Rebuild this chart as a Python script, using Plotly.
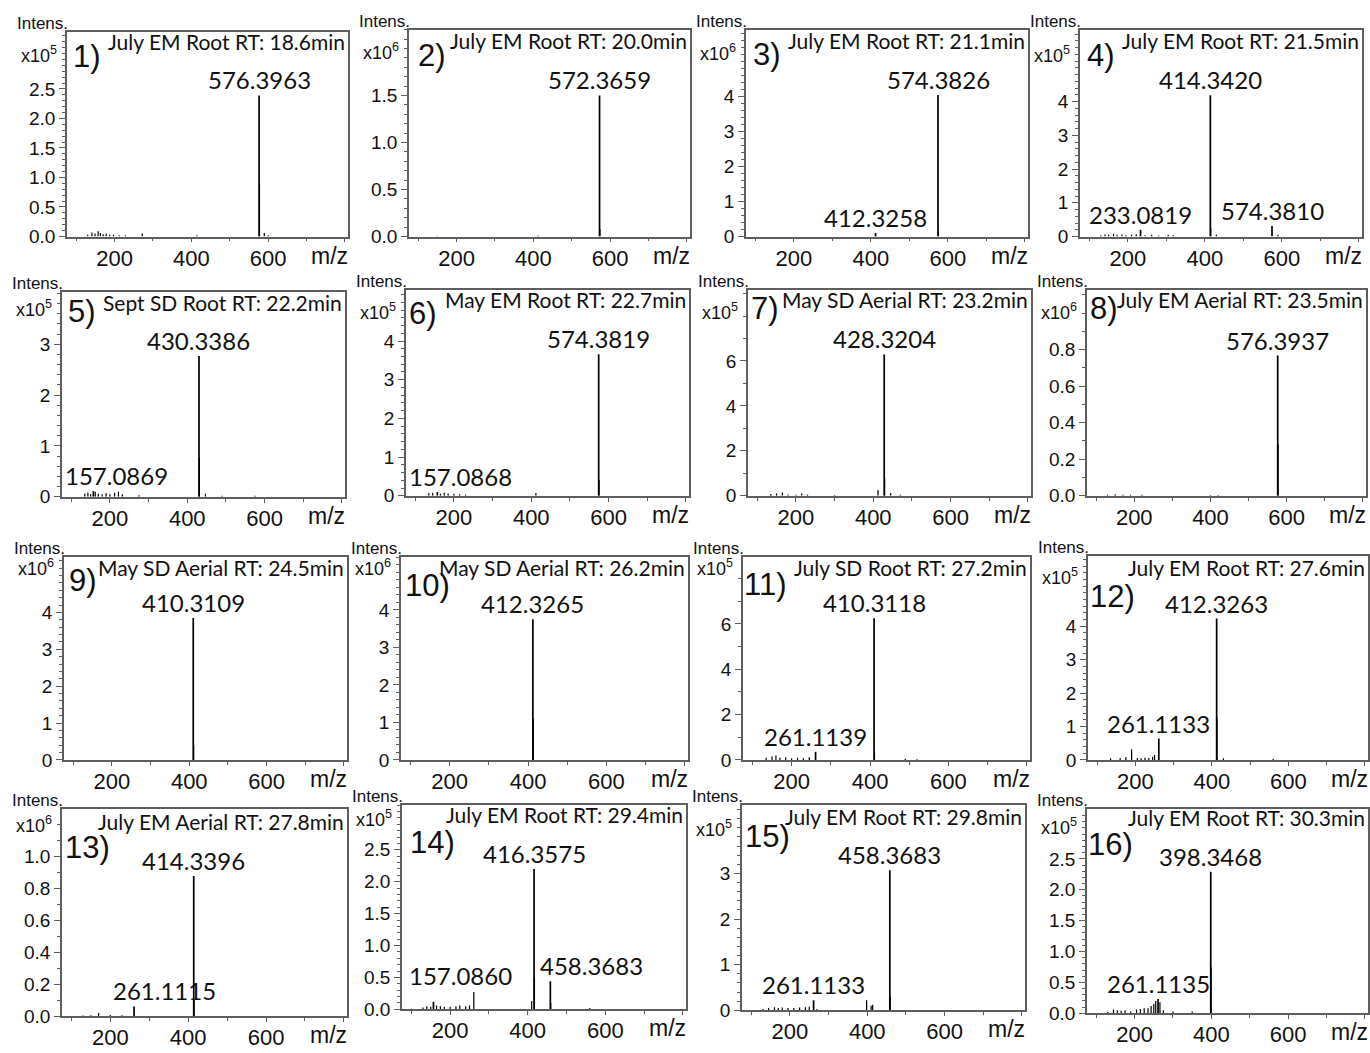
import plotly.graph_objects as go

# ---------------------------------------------------------------------------
# Mass spectra data (intensities are in units of 10^exponent)
# ---------------------------------------------------------------------------
PANEL_NUMBERS = ["1)", "2)", "3)", "4)", "5)", "6)", "7)", "8)",
                 "9)", "10)", "11)", "12)", "13)", "14)", "15)", "16)"]

PANEL_TITLES = [
    "July EM Root RT: 18.6min",
    "July EM Root RT: 20.0min",
    "July EM Root RT: 21.1min",
    "July EM Root RT: 21.5min",
    "Sept SD Root RT: 22.2min",
    "May EM Root RT: 22.7min",
    "May SD Aerial RT: 23.2min",
    "July EM Aerial RT: 23.5min",
    "May SD Aerial RT: 24.5min",
    "May SD Aerial RT: 26.2min",
    "July SD Root RT: 27.2min",
    "July EM Root RT: 27.6min",
    "July EM Aerial RT: 27.8min",
    "July EM Root RT: 29.4min",
    "July EM Root RT: 29.8min",
    "July EM Root RT: 30.3min",
]

INTENSITY_EXPONENT = [5, 6, 6, 5, 5, 5, 5, 6, 6, 6, 5, 5, 6, 5, 5, 5]

Y_AXIS_TOP = [3.47, 2.2, 5.92, 6.13, 4.03, 5.32, 9.16, 1.127,
              5.5, 5.41, 8.95, 6.1, 1.297, 3.21, 4.49, 3.3]
Y_TICK_STEP = [0.5, 0.5, 1, 1, 1, 1, 2, 0.2, 1, 1, 2, 1, 0.2, 0.5, 1, 0.5]
Y_TICK_LAST = [2.5, 1.5, 4, 4, 3, 4, 6, 0.8, 4, 4, 6, 4, 1.0, 2.5, 3, 2.5]
Y_MINOR_STEP = [0.1, 0.1, 0.2, 0.2, 0.2, 0.2, 1, 0.1,
                0.2, 0.2, 1, 0.2, 0.1, 0.1, 0.2, 0.1]

MZ_RANGE = [76, 808]
MZ_TICKS = [200, 400, 600, 800]
MZ_TICK_TEXT = ["200", "400", "600", ""]
MZ_MINOR_TICKS = [100, 300, 500, 700]

# Annotated peaks: m/z and intensity
LABELED_MZ = [
    [576.3963],
    [572.3659],
    [574.3826, 412.3258],
    [414.3420, 233.0819, 574.3810],
    [430.3386, 157.0869],
    [574.3819, 157.0868],
    [428.3204],
    [576.3937],
    [410.3109],
    [412.3265],
    [410.3118, 261.1139],
    [412.3263, 261.1133],
    [414.3396, 261.1115],
    [416.3575, 458.3683, 157.0860],
    [458.3683, 261.1133],
    [398.3468, 261.1135],
]
LABELED_INTENSITY = [
    [2.39],
    [1.50],
    [4.05, 0.10],
    [4.19, 0.20, 0.31],
    [2.77, 0.11],
    [3.66, 0.10],
    [6.29],
    [0.768],
    [3.85],
    [3.75],
    [6.25, 0.36],
    [4.23, 0.64],
    [0.88, 0.062],
    [2.20, 0.44, 0.12],
    [3.07, 0.22],
    [2.29, 0.23],
]

# Unannotated peaks (isotopes, fragments and background)
OTHER_MZ = [
    [130, 141, 149, 157, 163, 170, 178, 187, 197, 212, 228, 272, 415, 577.40, 590, 600],
    [150, 412, 573.37],
    [413.33, 575.39],
    [130, 141, 150, 163, 172, 185, 195, 210, 222, 245, 262, 280, 305, 318, 415.35, 430, 590],
    [135, 143, 150, 162, 170, 180, 190, 200, 212, 222, 232, 275, 431.34, 447, 490, 575],
    [135, 145, 165, 175, 185, 200, 215, 230, 412, 575.39],
    [135, 150, 165, 180, 200, 215, 230, 300, 412.3, 429.33, 445, 470],
    [130, 150, 170, 190, 220, 400, 420, 577.40],
    [411.31],
    [413.33],
    [135, 150, 160, 170, 185, 200, 215, 230, 245, 411.32, 490, 520],
    [135, 160, 175, 190, 205, 215, 225, 235, 245, 250, 413.33, 430, 560],
    [130, 150, 170, 200, 230, 415.35],
    [100, 130, 140, 150, 165, 175, 185, 200, 215, 225, 240, 250, 261.11, 410.3, 417.36, 459.37, 560],
    [130, 145, 160, 170, 180, 195, 210, 225, 240, 250, 270, 398.35, 410, 414, 459.37],
    [130, 145, 155, 165, 175, 190, 205, 215, 225, 235, 243, 250, 255, 266, 275, 300, 350, 399.35],
]
OTHER_INTENSITY = [
    [0.03, 0.07, 0.05, 0.09, 0.06, 0.04, 0.05, 0.03, 0.03, 0.02, 0.02, 0.05, 0.02, 0.90, 0.06, 0.02],
    [0.005, 0.01, 0.08],
    [0.03, 0.15],
    [0.04, 0.06, 0.05, 0.08, 0.05, 0.06, 0.04, 0.05, 0.07, 0.04, 0.05, 0.03, 0.05, 0.04, 0.26, 0.05, 0.05],
    [0.06, 0.08, 0.05, 0.10, 0.06, 0.05, 0.07, 0.05, 0.08, 0.10, 0.05, 0.03, 0.77, 0.06, 0.02, 0.02],
    [0.07, 0.08, 0.05, 0.08, 0.06, 0.05, 0.04, 0.03, 0.07, 0.40],
    [0.08, 0.10, 0.15, 0.06, 0.05, 0.10, 0.06, 0.03, 0.26, 0.80, 0.12, 0.05],
    [0.006, 0.008, 0.006, 0.005, 0.005, 0.004, 0.004, 0.28],
    [0.40],
    [1.10],
    [0.10, 0.15, 0.20, 0.10, 0.12, 0.08, 0.10, 0.08, 0.12, 0.30, 0.05, 0.03],
    [0.05, 0.06, 0.08, 0.32, 0.06, 0.05, 0.07, 0.06, 0.10, 0.15, 1.27, 0.05, 0.04],
    [0.005, 0.006, 0.02, 0.008, 0.006, 0.10],
    [0.01, 0.03, 0.05, 0.04, 0.06, 0.05, 0.04, 0.04, 0.05, 0.06, 0.05, 0.06, 0.27, 0.13, 0.50, 0.10, 0.02],
    [0.03, 0.05, 0.07, 0.05, 0.06, 0.05, 0.05, 0.06, 0.07, 0.08, 0.03, 0.22, 0.10, 0.12, 0.30],
    [0.02, 0.06, 0.05, 0.04, 0.05, 0.03, 0.06, 0.07, 0.08, 0.08, 0.12, 0.15, 0.20, 0.18, 0.05, 0.03, 0.03, 0.74],
]

# ---------------------------------------------------------------------------
# Page geometry and styling
# ---------------------------------------------------------------------------
W, H = 1370, 1053

# frame of each panel in page pixels: left, top, right, bottom
PANEL_BOX = [
    (67, 32, 348, 239), (409, 30, 690, 239), (746, 30, 1028, 239), (1080, 30, 1362, 239),
    (62, 295, 345, 502), (406, 293, 689, 501), (748, 293, 1031, 501), (1087, 293, 1366, 501),
    (64, 563, 347, 768), (401, 563, 688, 768), (743, 563, 1030, 768), (1088, 562, 1368, 768),
    (62, 818, 347, 1027), (402, 813, 686, 1020), (742, 814, 1025, 1021), (1087, 818, 1368, 1024),
]
NUMBER_OFFSET = [(6, 25), (9, 26), (7, 25), (7, 26), (6, 20), (3, 24), (3, 19), (3, 19),
                 (5, 23), (4, 28), (1, 27), (2, 40), (3, 38), (8, 38), (3, 31), (1, 35)]
EXPONENT_DROP = [23, 22, 23, 25, 17, 22, 22, 22, 10, 10, 10, 20, 15, 14, 23, 17]
TITLE_DROP = [10, 11, 11, 11, 11, 10, 10, 10, 10, 10, 10, 11, 12, 10, 11, 8]
# hand placement for labels that would collide with neighbouring peaks
LABEL_NUDGE = {(12, 1): (30, 0), (13, 1): (41, 0), (13, 2): (4, 11)}

INK = "#111111"
FRAME = "#5e5e5e"
SANS = "Liberation Sans, Arial, sans-serif"
PEAK_FONT = "Lato, Carlito, Calibri, sans-serif"
PEAK_SIZE = 24

fig = go.Figure()
annotations = []
axes = {}

for i in range(16):
    k = i + 1
    suffix = "" if k == 1 else str(k)
    xref, yref = f"x{suffix}", f"y{suffix}"
    left, top, right, bottom = PANEL_BOX[i]

    # background / isotope sticks
    xs, ys = [], []
    for mz, h in zip(OTHER_MZ[i], OTHER_INTENSITY[i]):
        xs += [mz, mz, None]
        ys += [0, h, None]
    fig.add_trace(go.Scatter(x=xs, y=ys, mode="lines", xaxis=xref, yaxis=yref,
                             line=dict(color="black", width=1.2),
                             hoverinfo="skip", showlegend=False))
    # annotated sticks
    xs, ys = [], []
    for mz, h in zip(LABELED_MZ[i], LABELED_INTENSITY[i]):
        xs += [mz, mz, None]
        ys += [0, h, None]
    fig.add_trace(go.Scatter(x=xs, y=ys, mode="lines", xaxis=xref, yaxis=yref,
                             line=dict(color="black", width=1.7),
                             hoverinfo="skip", showlegend=False))

    # axes
    step = Y_TICK_STEP[i]
    n_major = int(round(Y_TICK_LAST[i] / step))
    yvals = [j * step for j in range(n_major + 1)]
    ytext = [f"{v:.1f}" if step < 1 else f"{int(round(v))}" for v in yvals]
    mstep = Y_MINOR_STEP[i]
    yminor = [j * mstep for j in range(int(Y_AXIS_TOP[i] / mstep) + 1)]

    axes[f"xaxis{suffix}"] = dict(
        domain=[left / W, right / W], range=MZ_RANGE, anchor=yref,
        tickmode="array", tickvals=MZ_TICKS, ticktext=MZ_TICK_TEXT,
        ticks="outside", ticklen=4, tickwidth=1.2, tickcolor=FRAME,
        ticklabelstandoff=-3,
        minor=dict(ticks="outside", ticklen=3, tickwidth=1, tickcolor=FRAME,
                   tickvals=MZ_MINOR_TICKS, showgrid=False),
        showline=True, mirror=True, linecolor=FRAME, linewidth=1.5,
        showgrid=False, zeroline=False, fixedrange=True,
        tickfont=dict(family=SANS, size=22, color=INK),
    )
    axes[f"yaxis{suffix}"] = dict(
        domain=[1 - bottom / H, 1 - top / H], range=[0, Y_AXIS_TOP[i]], anchor=xref,
        tickmode="array", tickvals=yvals, ticktext=ytext,
        ticks="outside", ticklen=6, tickwidth=1.2, tickcolor=FRAME,
        minor=dict(ticks="outside", ticklen=3, tickwidth=1, tickcolor=FRAME,
                   tickvals=yminor, showgrid=False),
        showline=True, mirror=True, linecolor=FRAME, linewidth=1.5,
        showgrid=False, zeroline=False, fixedrange=True,
        tickfont=dict(family=SANS, size=19, color=INK),
    )

    xd, yd = f"x{suffix} domain", f"y{suffix} domain"

    # peak labels
    px_per_mz = (right - left) / (MZ_RANGE[1] - MZ_RANGE[0])
    for j, (mz, h) in enumerate(zip(LABELED_MZ[i], LABELED_INTENSITY[i])):
        text = f"{mz:.4f}"
        half_w = (0.58 * (len(text) - 1) * PEAK_SIZE + 6) / 2
        peak_px = left + (mz - MZ_RANGE[0]) * px_per_mz
        dx, dy = LABEL_NUDGE.get((i, j), (0, 0))
        common = dict(showarrow=False, yref=yref, y=h, yanchor="bottom", yshift=dy,
                      font=dict(family=PEAK_FONT, size=PEAK_SIZE, color=INK),
                      borderpad=0)
        if peak_px - half_w < left + 2:
            annotations.append(dict(text=text, xref=xd, x=0, xanchor="left",
                                    xshift=2 + dx, **common))
        else:
            annotations.append(dict(text=text, xref=xref, x=mz, xanchor="center",
                                    xshift=dx, **common))

    # panel title (sample and retention time)
    annotations.append(dict(text=PANEL_TITLES[i], showarrow=False,
                            xref=xd, x=1, xanchor="right", xshift=-1,
                            yref=yd, y=1, yanchor="middle", yshift=-TITLE_DROP[i],
                            font=dict(family=PEAK_FONT, size=21, color=INK)))
    # panel number
    ndx, ndy = NUMBER_OFFSET[i]
    annotations.append(dict(text=PANEL_NUMBERS[i], showarrow=False,
                            xref=xd, x=0, xanchor="left", xshift=ndx - 2,
                            yref=yd, y=1, yanchor="middle", yshift=-ndy,
                            font=dict(family=SANS, size=31, color=INK)))
    # intensity axis caption
    annotations.append(dict(text="Intens.", showarrow=False,
                            xref=xd, x=0, xanchor="right", xshift=3,
                            yref=yd, y=1, yanchor="bottom", yshift=-3,
                            font=dict(family=SANS, size=17, color=INK)))
    annotations.append(dict(text=f"x10<sup>{INTENSITY_EXPONENT[i]}</sup>", showarrow=False,
                            xref=xd, x=0, xanchor="right", xshift=-8,
                            yref=yd, y=1, yanchor="middle", yshift=-EXPONENT_DROP[i],
                            font=dict(family=SANS, size=18, color=INK)))
    # m/z axis caption
    annotations.append(dict(text="m/z", showarrow=False,
                            xref=xd, x=1, xanchor="right", xshift=2,
                            yref=yd, y=0, yanchor="middle", yshift=-19,
                            font=dict(family=SANS, size=23, color=INK)))

fig.update_layout(
    width=W, height=H,
    margin=dict(l=0, r=0, t=0, b=0),
    paper_bgcolor="white", plot_bgcolor="white",
    showlegend=False,
    annotations=annotations,
    **axes,
)

fig.write_html("out.html", config={"displayModeBar": False})
